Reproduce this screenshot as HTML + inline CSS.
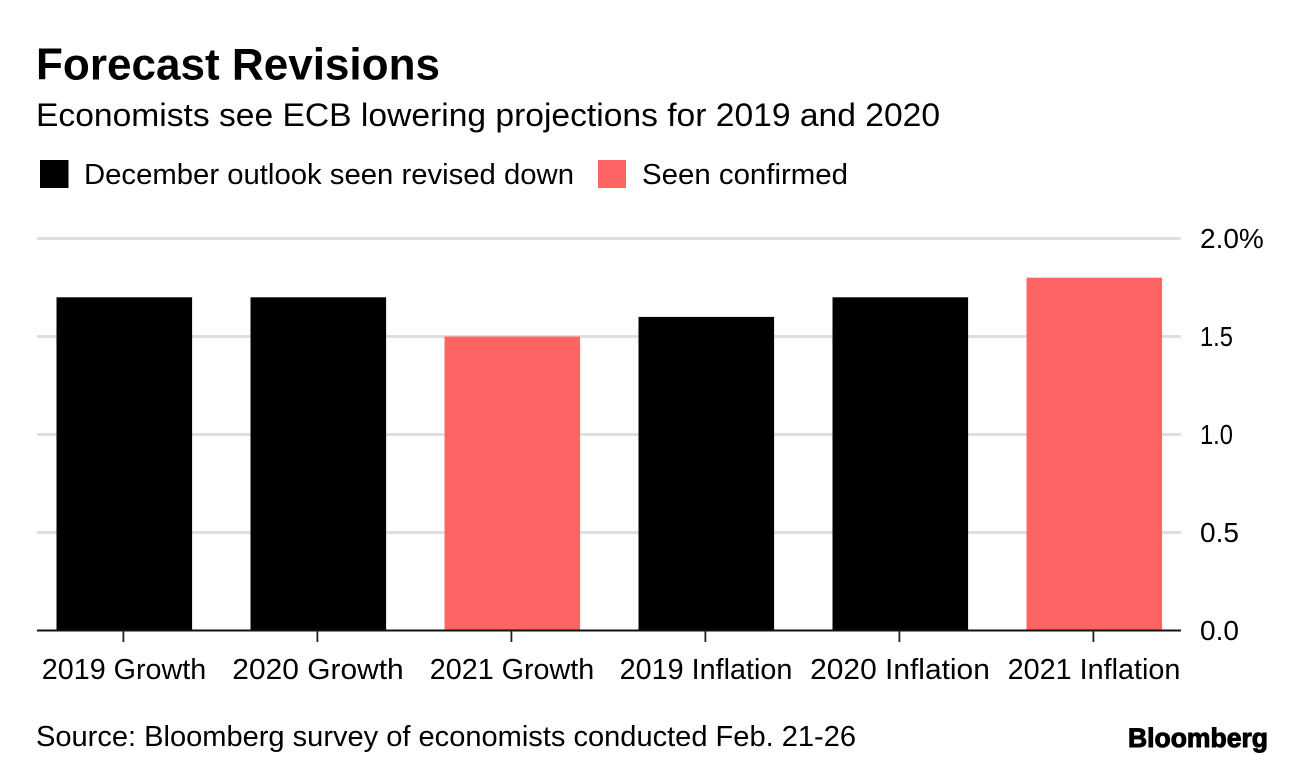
<!DOCTYPE html>
<html lang="en">
<head>
<meta charset="utf-8">
<title>Forecast Revisions</title>
<style>
html,body{margin:0;padding:0;background:#fff;}
body{width:1296px;height:768px;overflow:hidden;font-family:"Liberation Sans",sans-serif;}
svg{display:block;}
text{font-family:"Liberation Sans",sans-serif;fill:#000;}
</style>
</head>
<body>
<svg id="chart" width="1296" height="768" viewBox="0 0 1296 768">
  <rect width="1296" height="768" fill="#fff"/>
  <text x="36" y="79.5" font-size="44.5" font-weight="700" textLength="404" lengthAdjust="spacingAndGlyphs">Forecast Revisions</text>
  <text x="36" y="126" font-size="32" textLength="904" lengthAdjust="spacingAndGlyphs">Economists see ECB lowering projections for 2019 and 2020</text>
  <rect x="40" y="160" width="28.5" height="28" fill="#000"/>
  <text x="84" y="184" font-size="29" textLength="490" lengthAdjust="spacingAndGlyphs">December outlook seen revised down</text>
  <rect x="598" y="160" width="28" height="28" fill="#ff6464"/>
  <text x="642" y="184" font-size="29" textLength="206" lengthAdjust="spacingAndGlyphs">Seen confirmed</text>
  <g id="grid"></g>
  <g id="bars"></g>
  <g id="axis"></g>
  <text x="36" y="746" font-size="28.5" textLength="820" lengthAdjust="spacingAndGlyphs">Source: Bloomberg survey of economists conducted Feb. 21-26</text>
  <text x="1128" y="747" font-size="27" font-weight="700" stroke="#000" stroke-width="1" textLength="140" lengthAdjust="spacingAndGlyphs">Bloomberg</text>
</svg>
<script>
const categories = ["2019 Growth", "2020 Growth", "2021 Growth", "2019 Inflation", "2020 Inflation", "2021 Inflation"];
const values = [1.7, 1.7, 1.5, 1.6, 1.7, 1.8];
const statuses = ["down", "down", "confirmed", "down", "down", "confirmed"];
const tickValues = [0, 0.5, 1, 1.5, 2];
const tickLabels = ["0.0", "0.5", "1.0", "1.5", "2.0%"];

const NS = "http://www.w3.org/2000/svg";
const y = v => 630.5 - (v / 2) * 392;
const x = i => 123.4 + i * 194;
const barWidth = 135.6;
const colour = s => s === "confirmed" ? "#ff6464" : "#000";

function make(parent, tag, attrs) {
  const el = document.createElementNS(NS, tag);
  for (const k in attrs) el.setAttribute(k, attrs[k]);
  parent.appendChild(el);
  return el;
}

/* The reference typeface sets the digit 1 much narrower than Liberation Sans. */
function fitText(el, scale, perOne) {
  const ones = (el.textContent.match(/1/g) || []).length;
  el.setAttribute("textLength", el.getComputedTextLength() * scale - ones * perOne);
  el.setAttribute("lengthAdjust", "spacingAndGlyphs");
}

const grid = document.getElementById("grid");
const bars = document.getElementById("bars");
const axis = document.getElementById("axis");

tickValues.forEach((t, i) => {
  if (t !== 0) {
    const line = make(grid, "line", {x1: 37, x2: 1181, y1: y(t), y2: y(t), stroke: "#dfdfdf", "stroke-width": 3});
    
    
  }
  const label = make(axis, "text", {x: 1200, y: y(t) + 9.5, "font-size": 28});
  label.textContent = tickLabels[i];
  
  
  fitText(label, 1, 6);
});

values.forEach((v, i) => {
  const bar = make(bars, "rect", {x: x(i) + 0.9 - barWidth / 2, y: y(v), width: barWidth, height: y(0) - y(v), fill: colour(statuses[i])});
  
  
});

const baseline = make(axis, "line", {x1: 37, x2: 1181, y1: y(0), y2: y(0), stroke: "#111", "stroke-width": 2});



categories.forEach((c, i) => {
  const tick = make(axis, "line", {x1: x(i), x2: x(i), y1: y(0), y2: y(0) + 11.5, stroke: "#222", "stroke-width": 1.8});
  
  
  const label = make(axis, "text", {x: x(i) + 0.6, y: 679, "font-size": 28.5, "text-anchor": "middle"});
  label.textContent = c;
  
  
  fitText(label, 1.05, 7);
});
</script>
</body>
</html>
